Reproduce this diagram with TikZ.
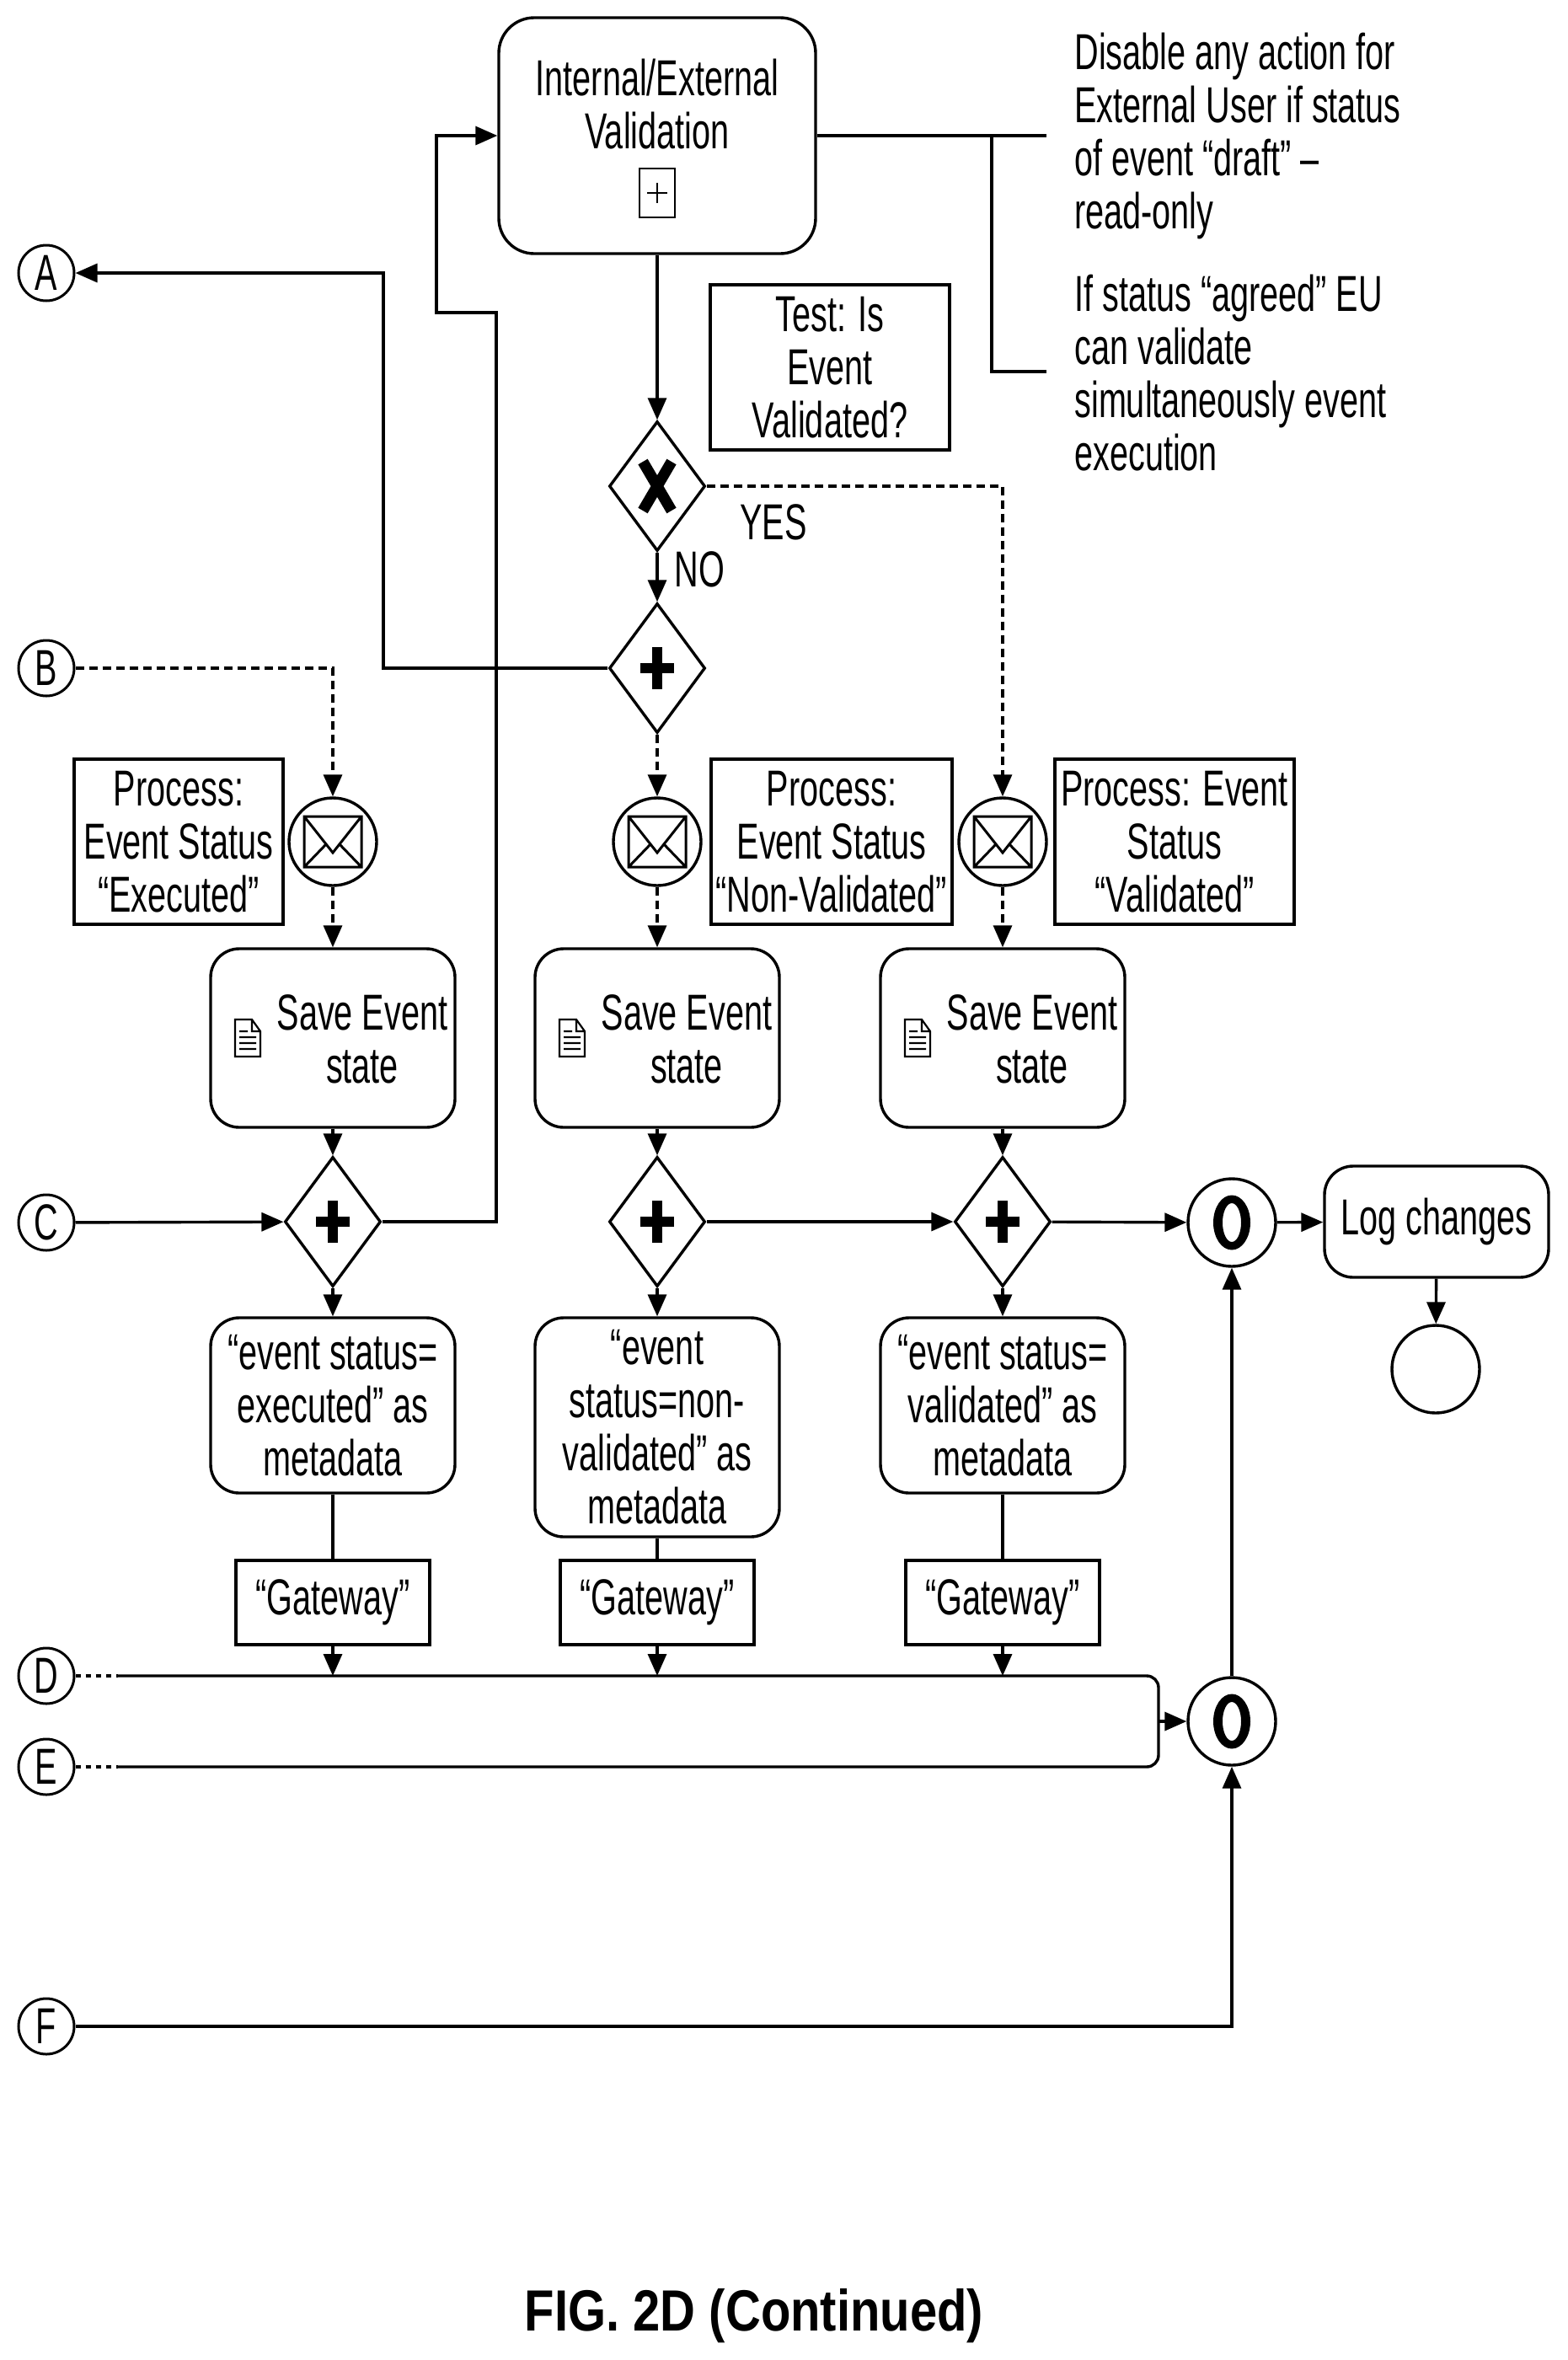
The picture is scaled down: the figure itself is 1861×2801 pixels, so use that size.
\documentclass[tikz,border=0pt]{standalone}
\usepackage{fontspec}
\setmainfont[FakeStretch=0.66]{Liberation Sans}
\newfontfamily\capfont[FakeStretch=0.84]{Liberation Sans}
\usetikzlibrary{positioning}
\usetikzlibrary{shapes.geometric}
\usetikzlibrary{arrows.meta}

\tikzset{
  drawtext/.style={font=\fontsize{30}{31.5}\selectfont, align=center, inner sep=0pt},
  taskbox/.style={drawtext, draw, line width=1.7pt, rounded corners=17pt, minimum width=145pt, minimum height=106pt},
  notebox/.style={drawtext, draw, line width=1.7pt},
  gatebox/.style={draw, diamond, inner sep=0pt, line width=1.7pt, minimum width=57pt, minimum height=77pt},
  eventnode/.style={draw, circle, inner sep=0pt, line width=1.7pt, minimum size=52pt},
  refnode/.style={drawtext, draw, circle, line width=1.5pt, minimum size=33pt},
  flowline/.style={line width=1.7pt, -{Triangle[length=13pt,width=11pt]}},
  msgline/.style={flowline, dash pattern=on 5pt off 3pt},
  plainline/.style={line width=1.7pt}
}

\begin{document}
\begin{tikzpicture}[x=0.5pt, y=-0.5pt]
  \useasboundingbox (0,0) rectangle (1861,2801);

  % top of the page
  \node[taskbox, rounded corners=21pt, minimum width=188pt, minimum height=140pt] (mainval) at (780,161) {};
  \node[drawtext] (mainvaltext) at (780,124) {Internal/External\\Validation};
  \node[draw, line width=1.4pt, minimum width=21pt, minimum height=29pt, inner sep=0pt] (mainplus) at (780,229) {};
  \draw[line width=1.4pt] (768,229) -- (792,229) (780,217) -- (780,241);

  \node[notebox, minimum width=142pt, minimum height=98pt] (testbox) at (985,436) {Test: Is\\Event\\Validated?};
  \node[drawtext, align=left, anchor=west] (notea) at (1275,161) {Disable any action for\\External User if status\\of event “draft” –\\read-only};
  \node[drawtext, align=left, anchor=west] (noteb) at (1275,443) {If status “agreed” EU\\can validate\\simultaneously event\\execution};
  \coordinate (noteaend) at (1242,161);
  \coordinate (notefork) at (1177,161);
  \coordinate (notebend) at (1242,441);
  \draw[plainline] (mainval.east) -- (noteaend);
  \draw[plainline] (notefork) |- (notebend);

  \node[gatebox] (gxor) at (780,577) {};
  \node[gatebox] (gplus) at (780,793) {};
  \node[drawtext] (yeslabel) at (918,620) {YES};
  \node[drawtext, anchor=west] (nolabel) at (800,676) {NO};

  % off-page references
  \foreach \n/\ry in {A/324,B/793,C/1451,D/1989,E/2097,F/2405}
    \node[refnode] (ref\n) at (55,\ry) {\n};

  % the three columns
  \foreach \n/\cx in {a/395,b/780,c/1190} {
    \node[eventnode] (msg\n) at (\cx,999) {};
    \node[taskbox] (save\n) at (\cx,1232) {};
    \node[drawtext] (savetext\n) at (\cx+35,1233) {Save Event\\state};
    \node[gatebox] (gate\n) at (\cx,1450) {};
    \node[notebox, minimum width=115pt, minimum height=50pt] (gw\n) at (\cx,1902) {“Gateway”};
    \draw[flowline] (save\n) -- (gate\n);
    \draw[msgline] (msg\n) -- (save\n);
    % envelope
    \draw[line width=1.5pt, shift={(msg\n)}] (-34,-30) rectangle (34,30)
      (-34,-30) -- (0,13) -- (34,-30) (-34,30) -- (-8,3) (34,30) -- (8,3);
    % document icon
    \draw[line width=1.1pt, fill=white, shift={(save\n)}, xshift=-50.5pt]
      (-15,-22) -- (5,-22) -- (15,-8) -- (15,22) -- (-15,22) -- cycle
      (5,-22) -- (5,-8) -- (15,-8)
      (-10,-8) -- (0,-8) (-10,-1) -- (10,-1) (-10,6) -- (10,6) (-10,13) -- (10,13);
  }

  \node[notebox, minimum width=124pt, minimum height=98pt] (procaxx) at (212,999) {Process:\\Event Status\\“Executed”};
  \node[notebox, minimum width=143pt, minimum height=98pt] (procbxx) at (987,999) {Process:\\Event Status\\“Non-Validated”};
  \node[notebox, minimum width=142pt, minimum height=98pt] (proccxx) at (1394,999) {Process: Event\\Status\\“Validated”};

  \node[taskbox, minimum height=104pt] (metaa) at (395,1668) {“event status=\\executed” as\\metadata};
  \node[taskbox, minimum height=130pt] (metab) at (780,1694) {“event\\status=non-\\validated” as\\metadata};
  \node[taskbox, minimum height=104pt] (metac) at (1190,1668) {“event status=\\validated” as\\metadata};

  \node[eventnode] (joina) at (1462,1451) {};
  \node[eventnode] (joinb) at (1462,2043) {};
  \node[taskbox, minimum width=133pt, minimum height=66pt] (logbox) at (1705,1450) {Log changes};
  \node[eventnode] (endevent) at (1704,1625) {};

  % gateway marks
  \foreach \g in {gplus,gatea,gateb,gatec}
    \draw[line width=6pt, shift={(\g)}] (-20,0) -- (20,0) (0,-25) -- (0,25);
  \draw[line width=6.5pt, shift={(gxor)}] (-17,-29) -- (17,29) (17,-29) -- (-17,29);
  \foreach \g in {joina,joinb}
    \fill[even odd rule, shift={(\g)}] (0,0) ellipse [x radius=22, y radius=32.5]
      (0,0) ellipse [x radius=11, y radius=23];

  % connectors
  \coordinate (loopa) at (589,371);
  \coordinate (loopb) at (518,371);
  \coordinate (turna) at (455,324);
  \coordinate (dashd) at (140,1989);
  \coordinate (dashe) at (140,2097);
  \coordinate (barmid) at (1375,2043);

  \draw[flowline] (mainval) -- (gxor);
  \draw[flowline] (gxor) -- (gplus);
  \draw[flowline] (gplus.west) -| (turna) -- (refA.east);
  \draw[msgline] (gplus) -- (msgb);
  \draw[msgline] (gxor.east) -| (msgc);
  \draw[msgline] (refB.east) -| (msga);
  \draw[flowline] (refC) -- (gatea);
  \draw[flowline] (gatea.east) -| (loopa) -- (loopb) |- (mainval.west);
  \draw[flowline] (gateb) -- (gatec);
  \draw[flowline] (gatec) -- (joina);
  \draw[flowline] (joina) -- (logbox);
  \draw[flowline] (logbox) -- (endevent);
  \foreach \n in {a,b,c} {
    \draw[flowline] (gate\n) -- (meta\n);
    \draw[plainline] (meta\n) -- (gw\n);
    \draw[flowline] (gw\n.south) -- (gw\n.south |- dashd);
  }
  \draw[plainline, dash pattern=on 3pt off 3pt] (refD.east) -- (dashd);
  \draw[plainline, dash pattern=on 3pt off 3pt] (refE.east) -- (dashe);
  \draw[plainline, rounded corners=7pt] (dashd) -- (1375,1989) -- (1375,2097) -- (dashe);
  \draw[flowline] (barmid) -- (joinb);
  \draw[flowline] (joinb) -- (joina);
  \draw[flowline] (refF.east) -| (joinb);

  \node[anchor=base, inner sep=0pt, font=\capfont\bfseries\fontsize{34.5}{36}\selectfont] (figcaption) at (895,2766) {FIG. 2D (Continued)};
\end{tikzpicture}
\end{document}
